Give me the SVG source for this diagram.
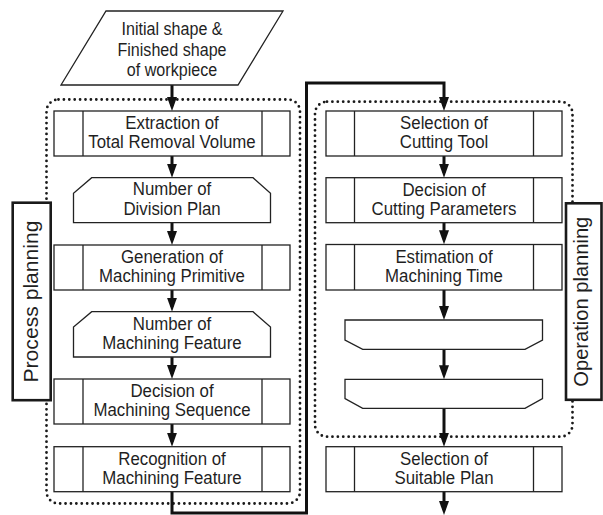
<svg xmlns="http://www.w3.org/2000/svg" width="603" height="515" viewBox="0 0 603 515">
<defs>
<style>
.bx{fill:#fff;stroke:#222;stroke-width:1.3}
.ln{stroke:#222;stroke-width:1.3}
.dot{fill:none;stroke:#1a1a1a;stroke-width:2.8;stroke-linecap:round;stroke-dasharray:0 5.4}
.lab{fill:#fff;stroke:#1a1a1a;stroke-width:2.6}
.t{font-family:"Liberation Sans",Arial,sans-serif;font-size:18.5px;fill:#1f1f1f;text-anchor:middle}
.tl{font-family:"Liberation Sans",Arial,sans-serif;font-size:19.5px;fill:#1f1f1f;text-anchor:middle}
.cn{fill:none;stroke:#111;stroke-width:3}
</style>
<marker id="ah" markerUnits="userSpaceOnUse" markerWidth="14" markerHeight="10" viewBox="0 0 14 10" refX="9" refY="5" orient="auto">
<path d="M0,0 L14,5 L0,10 z" fill="#111"/>
</marker>
</defs>
<rect width="603" height="515" fill="#fff"/>

<g id="frames">
<rect class="dot" x="46.5" y="99.5" width="253.5" height="404" rx="12"/>
<rect class="dot" x="315" y="101.7" width="257.5" height="335" rx="12"/>
</g>

<g id="process-planning">
<rect class="lab" x="12.7" y="202.7" width="38" height="197.5"/>
<text class="tl" transform="translate(38 301.5) rotate(-90)" x="0" y="0" textLength="162" lengthAdjust="spacingAndGlyphs">Process planning</text>
</g>
<g id="operation-planning">
<rect class="lab" x="566" y="203.3" width="35.5" height="196.5"/>
<text class="tl" transform="translate(587.5 301.7) rotate(-90)" x="0" y="0" textLength="170" lengthAdjust="spacingAndGlyphs">Operation planning</text>
</g>

<g id="connectors">
<line class="cn" x1="172" y1="85" x2="172" y2="106" marker-end="url(#ah)"/>
<line class="cn" x1="172" y1="156" x2="172" y2="172.7" marker-end="url(#ah)"/>
<line class="cn" x1="172" y1="222.7" x2="172" y2="240" marker-end="url(#ah)"/>
<line class="cn" x1="172" y1="290" x2="172" y2="306.7" marker-end="url(#ah)"/>
<line class="cn" x1="172" y1="357" x2="172" y2="374" marker-end="url(#ah)"/>
<line class="cn" x1="172" y1="424" x2="172" y2="441.7" marker-end="url(#ah)"/>
<path class="cn" d="M172,491.7 V513 H306.5 V83 H444 V106" marker-end="url(#ah)"/>
<line class="cn" x1="444" y1="156" x2="444" y2="172.7" marker-end="url(#ah)"/>
<line class="cn" x1="444" y1="222.7" x2="444" y2="239.3" marker-end="url(#ah)"/>
<line class="cn" x1="444" y1="290" x2="444" y2="315" marker-end="url(#ah)"/>
<line class="cn" x1="444" y1="349.3" x2="444" y2="374.3" marker-end="url(#ah)"/>
<line class="cn" x1="444" y1="408.3" x2="444" y2="441.7" marker-end="url(#ah)"/>
<line class="cn" x1="444" y1="491.7" x2="444" y2="510" marker-end="url(#ah)"/>
</g>

<g id="input">
<polygon class="bx" points="106,11 283,11 238,85 61,85"/>
<text class="t" transform="translate(172 0) scale(0.87 1)"><tspan x="0" y="35.5">Initial shape &amp;</tspan><tspan x="0" y="56">Finished shape</tspan><tspan x="0" y="76.5">of workpiece</tspan></text>
</g>

<g id="extraction">
<rect class="bx" x="54" y="111" width="236" height="45"/>
<line class="ln" x1="83" y1="111" x2="83" y2="156"/><line class="ln" x1="262" y1="111" x2="262" y2="156"/>
<text class="t" transform="translate(172 0) scale(0.91 1)"><tspan x="0" y="129.5">Extraction of</tspan><tspan x="0" y="148.5">Total Removal Volume</tspan></text>
</g>

<g id="division-plan">
<polygon class="bx" points="91.7,177.7 253,177.7 270.5,193.3 270.5,222.7 73.5,222.7 73.5,193.3"/>
<text class="t" transform="translate(172 0) scale(0.91 1)"><tspan x="0" y="195.5">Number of</tspan><tspan x="0" y="215">Division Plan</tspan></text>
</g>

<g id="generation">
<rect class="bx" x="54" y="245" width="236" height="45"/>
<line class="ln" x1="83" y1="245" x2="83" y2="290"/><line class="ln" x1="262" y1="245" x2="262" y2="290"/>
<text class="t" transform="translate(172 0) scale(0.91 1)"><tspan x="0" y="263.5">Generation of</tspan><tspan x="0" y="282.5">Machining Primitive</tspan></text>
</g>

<g id="machining-feature-number">
<polygon class="bx" points="91.7,311.7 253,311.7 270.5,327 270.5,357 73.5,357 73.5,327"/>
<text class="t" transform="translate(172 0) scale(0.91 1)"><tspan x="0" y="330">Number of</tspan><tspan x="0" y="349.5">Machining Feature</tspan></text>
</g>

<g id="sequence">
<rect class="bx" x="54" y="379" width="236" height="45"/>
<line class="ln" x1="83" y1="379" x2="83" y2="424"/><line class="ln" x1="262" y1="379" x2="262" y2="424"/>
<text class="t" transform="translate(172 0) scale(0.91 1)"><tspan x="0" y="397.5">Decision of</tspan><tspan x="0" y="416.5">Machining Sequence</tspan></text>
</g>

<g id="recognition">
<rect class="bx" x="54" y="446.7" width="236" height="45"/>
<line class="ln" x1="83" y1="446.7" x2="83" y2="491.7"/><line class="ln" x1="262" y1="446.7" x2="262" y2="491.7"/>
<text class="t" transform="translate(172 0) scale(0.91 1)"><tspan x="0" y="465.2">Recognition of</tspan><tspan x="0" y="484.2">Machining Feature</tspan></text>
</g>

<g id="cutting-tool">
<rect class="bx" x="326" y="111" width="236" height="45"/>
<line class="ln" x1="354.5" y1="111" x2="354.5" y2="156"/><line class="ln" x1="533.5" y1="111" x2="533.5" y2="156"/>
<text class="t" transform="translate(444 0) scale(0.91 1)"><tspan x="0" y="129.5">Selection of</tspan><tspan x="0" y="148.5">Cutting Tool</tspan></text>
</g>

<g id="cutting-parameters">
<rect class="bx" x="326" y="177.7" width="236" height="45"/>
<line class="ln" x1="354.5" y1="177.7" x2="354.5" y2="222.7"/><line class="ln" x1="533.5" y1="177.7" x2="533.5" y2="222.7"/>
<text class="t" transform="translate(444 0) scale(0.91 1)"><tspan x="0" y="196.2">Decision of</tspan><tspan x="0" y="215.2">Cutting Parameters</tspan></text>
</g>

<g id="machining-time">
<rect class="bx" x="326" y="244.5" width="236" height="45.5"/>
<line class="ln" x1="354.5" y1="244.5" x2="354.5" y2="290"/><line class="ln" x1="533.5" y1="244.5" x2="533.5" y2="290"/>
<text class="t" transform="translate(444 0) scale(0.91 1)"><tspan x="0" y="263">Estimation of</tspan><tspan x="0" y="282">Machining Time</tspan></text>
</g>

<g id="loop-end-1">
<polygon class="bx" points="345,320 542.5,320 542.5,340 525,349.3 362.7,349.3 345,340"/>
</g>

<g id="loop-end-2">
<polygon class="bx" points="345,379.3 542.5,379.3 542.5,398.5 525,408.3 362.7,408.3 345,398.5"/>
</g>

<g id="suitable-plan">
<rect class="bx" x="326" y="446.7" width="236" height="45"/>
<line class="ln" x1="354.5" y1="446.7" x2="354.5" y2="491.7"/><line class="ln" x1="533.5" y1="446.7" x2="533.5" y2="491.7"/>
<text class="t" transform="translate(444 0) scale(0.91 1)"><tspan x="0" y="465.2">Selection of</tspan><tspan x="0" y="484.2">Suitable Plan</tspan></text>
</g>
</svg>
